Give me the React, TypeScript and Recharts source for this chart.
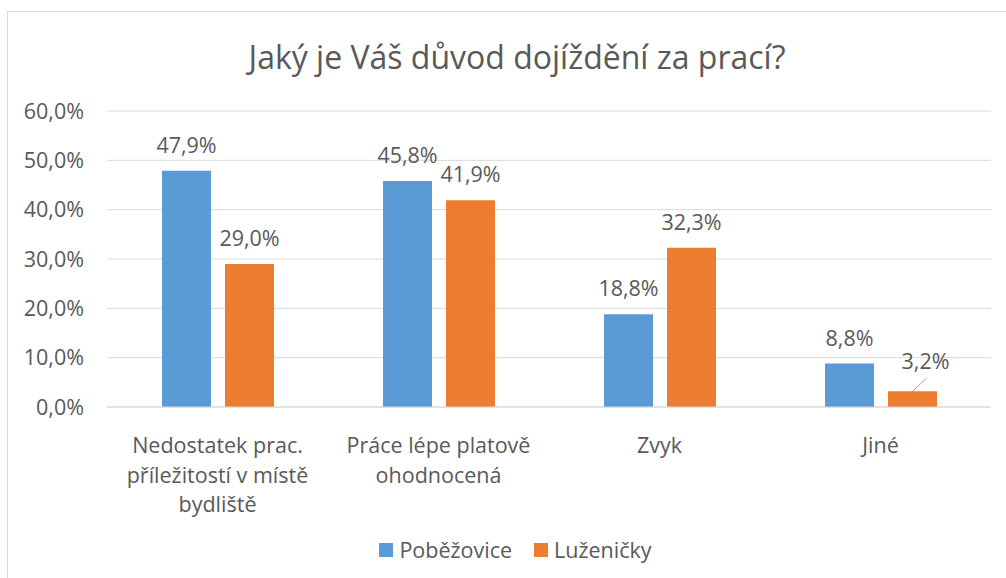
import { BarChart, Bar, XAxis, YAxis, CartesianGrid, Legend, LabelList } from "recharts"

const categories = [
  "Nedostatek prac.\npříležitostí v místě\nbydliště",
  "Práce lépe platově\nohodnocená",
  "Zvyk",
  "Jiné",
]
const seriesNames = ["Poběžovice", "Luženičky"]
const pobezovice = [47.9, 45.8, 18.8, 8.8]
const luzenicky = [29.0, 41.9, 32.3, 3.2]
const yTicks = [0, 10, 20, 30, 40, 50, 60]

const data = categories.map((name, i) => ({
  name,
  pobezovice: pobezovice[i],
  luzenicky: luzenicky[i],
}))

const FONT = "'Open Sans', sans-serif"
const FS = 21.5
const TEXT = "#595959"
const BLUE = "#5B9BD5"
const ORANGE = "#ED7D31"

const pct = (v: number) => v.toFixed(1).replace(".", ",") + "%"

const CategoryTick = ({ x, y, payload }: any) => {
  const lines = String(payload.value).split("\n")
  return (
    <text x={x} y={y + 38} textAnchor="middle" fill={TEXT} fontSize={FS} fontFamily={FONT}>
      {lines.map((l, i) => (
        <tspan key={i} x={x} dy={i === 0 ? 0 : 29.5}>
          {l}
        </tspan>
      ))}
    </text>
  )
}

// data label above each bar; the tiny last orange bar gets a callout like the original
const makeLabel = (moved: number[]) => (props: any) => {
  const { x, y, width, value, index } = props
  const cx = x + width / 2
  if (moved.includes(index)) {
    return (
      <g>
        <line x1={cx} y1={y} x2={cx + 14} y2={y - 13} stroke="#A6A6A6" strokeWidth={1} />
        <text x={cx + 13} y={y - 22} textAnchor="middle" fill={TEXT} fontSize={FS} fontFamily={FONT}>
          {pct(value)}
        </text>
      </g>
    )
  }
  return (
    <text x={cx} y={y - 18} textAnchor="middle" fill={TEXT} fontSize={FS} fontFamily={FONT}>
      {pct(value)}
    </text>
  )
}

const renderLegend = (props: any) => {
  const payload = [...props.payload].sort(
    (a: any, b: any) => seriesNames.indexOf(a.value) - seriesNames.indexOf(b.value)
  )
  return (
    <div
      style={{
        display: "flex",
        justifyContent: "center",
        gap: 22,
        paddingLeft: 40,
        fontFamily: FONT,
        fontSize: FS,
        color: TEXT,
      }}
    >
      {payload.map((p: any) => (
        <div key={p.value} style={{ display: "flex", alignItems: "center" }}>
          <span style={{ width: 14, height: 14, background: p.color, marginRight: 6, display: "inline-block" }} />
          <span>{p.value}</span>
        </div>
      ))}
    </div>
  )
}

export default function App() {
  return (
    <div style={{ position: "absolute", left: 0, top: 0, width: 1006, height: 578, overflow: "hidden", background: "#fff" }}>
      <div
        style={{
          position: "absolute",
          left: 7,
          top: 11,
          width: 1100,
          height: 700,
          border: "1px solid #D9D9D9",
        }}
      />
      <div
        style={{
          position: "absolute",
          left: 0,
          top: 35,
          width: 1034,
          textAlign: "center",
          fontFamily: FONT,
          fontSize: 32,
          lineHeight: "44px",
          color: TEXT,
        }}
      >
        Jaký je Váš důvod dojíždění za prací?
      </div>
      <div style={{ position: "absolute", left: 0, top: 0 }}>
        <BarChart
          width={1006}
          height={578}
          data={data}
          margin={{ top: 111, right: 15, bottom: 3, left: 0 }}
          barSize={49}
          barGap={14}
        >
          <CartesianGrid vertical={false} stroke="#D9D9D9" />
          <XAxis
            dataKey="name"
            interval={0}
            height={128}
            tickLine={false}
            axisLine={{ stroke: "#D9D9D9" }}
            tick={<CategoryTick />}
          />
          <YAxis
            width={107}
            domain={[0, 60]}
            ticks={yTicks}
            tickFormatter={pct}
            axisLine={false}
            tickLine={false}
            tickSize={8}
            tickMargin={15}
            tick={{ fill: TEXT, fontSize: FS, fontFamily: FONT }}
          />
          <Legend verticalAlign="bottom" height={40} content={renderLegend} />
          <Bar dataKey="pobezovice" name={seriesNames[0]} fill={BLUE} isAnimationActive={false}>
            <LabelList dataKey="pobezovice" content={makeLabel([])} />
          </Bar>
          <Bar dataKey="luzenicky" name={seriesNames[1]} fill={ORANGE} isAnimationActive={false}>
            <LabelList dataKey="luzenicky" content={makeLabel([3])} />
          </Bar>
        </BarChart>
      </div>
    </div>
  )
}
